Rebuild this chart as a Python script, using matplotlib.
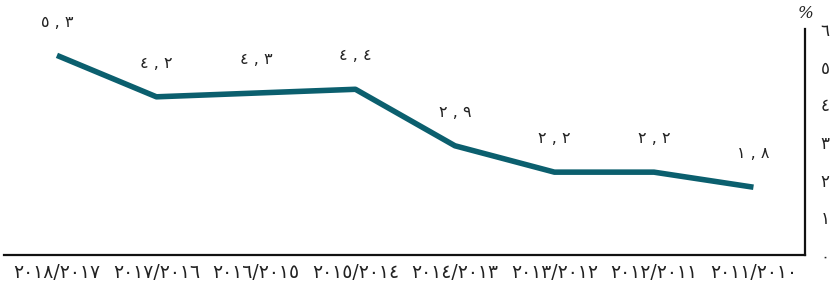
import matplotlib.pyplot as plt

# Dados (da esquerda para a direita)
anos = ['٢٠١٨/٢٠١٧', '٢٠١٧/٢٠١٦', '٢٠١٦/٢٠١٥', '٢٠١٥/٢٠١٤',
        '٢٠١٤/٢٠١٣', '٢٠١٣/٢٠١٢', '٢٠١٢/٢٠١١', '٢٠١١/٢٠١٠']
valores = [5.3, 4.2, 4.3, 4.4, 2.9, 2.2, 2.2, 1.8]
rotulos = ['٥ , ٣', '٤ , ٢', '٤ , ٣', '٤ , ٤', '٢ , ٩', '٢ , ٢', '٢ , ٢', '١ , ٨']
yticks = [0, 1, 2, 3, 4, 5, 6]
ytick_labels = ['٠', '١', '٢', '٣', '٤', '٥', '٦']

plt.rcParams['font.family'] = ['DejaVu Sans']

fig = plt.figure(figsize=(8.37, 2.89), dpi=100)
ax = fig.add_axes([0.005, 0.1176, 0.957, 0.782])

x = list(range(len(valores)))
ax.plot(x, valores, color='#0b5f6e', linewidth=4.0, solid_capstyle='butt')

for xi, v, r in zip(x, valores, rotulos):
    ax.annotate(r, (xi, v), xytext=(0, 24), textcoords='offset points',
                ha='center', va='center', fontsize=11.5, color='#222222')

ax.set_xlim(-0.53, 7.52)
ax.set_ylim(0, 6)
ax.set_xticks(x)
ax.set_xticklabels(anos, fontsize=13.5, color='#222222')
ax.set_yticks(yticks)
ax.set_yticklabels(ytick_labels, fontsize=12, color='#222222')
ax.yaxis.tick_right()
ax.tick_params(axis='both', length=0)
ax.tick_params(axis='y', pad=11)
ax.tick_params(axis='x', pad=6)

for s in ['top', 'left']:
    ax.spines[s].set_visible(False)
for s in ['right', 'bottom']:
    ax.spines[s].set_linewidth(1.6)
    ax.spines[s].set_color('#111111')

fig.text(0.962, 0.955, '%', ha='center', va='center', fontsize=12,
         family='DejaVu Serif', style='italic', color='#222222')

fig.savefig('out.png', dpi=100)
